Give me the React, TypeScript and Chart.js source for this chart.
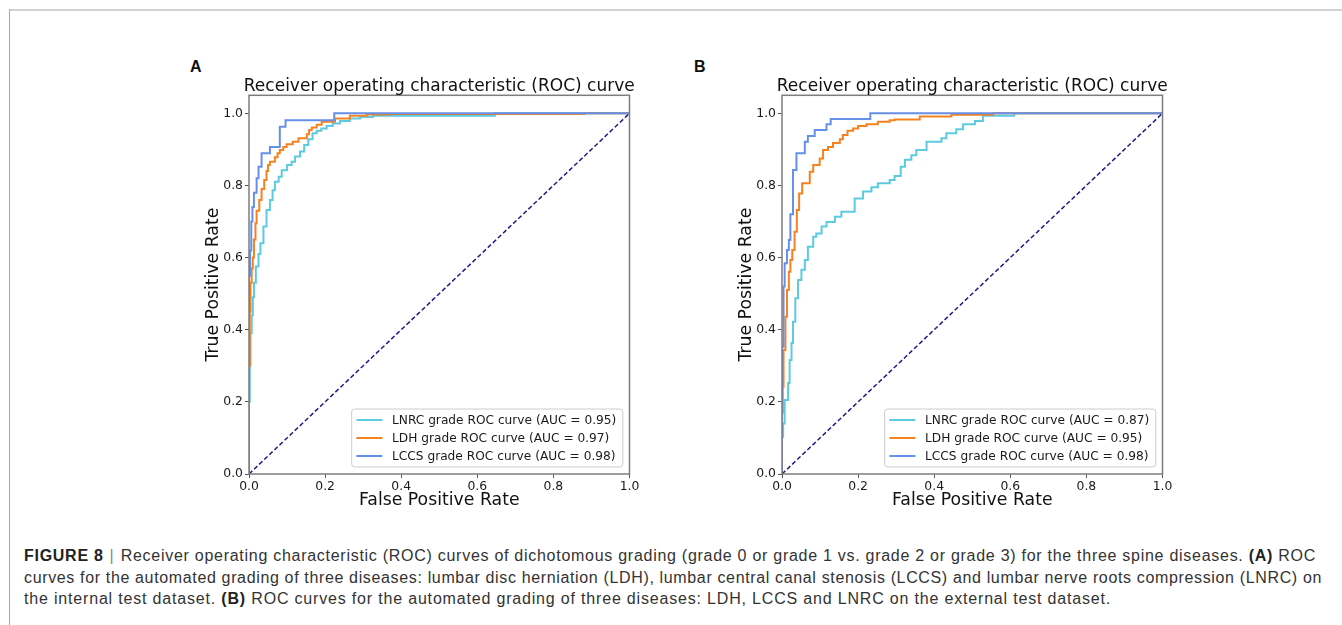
import React, { useEffect, useLayoutEffect, useRef } from "react";
import { Chart, registerables } from "chart.js";

Chart.register(...registerables);

// ---------- data ----------
const seriesLabels = ["LNRC grade ROC curve", "LDH grade ROC curve", "LCCS grade ROC curve"];
const seriesColors = ["#5ccbe0", "#f5821f", "#6690e8"];
const aucA = [0.95, 0.97, 0.98];
const aucB = [0.87, 0.95, 0.98];

const tickValues = [0, 0.2, 0.4, 0.6, 0.8, 1.0];
const tickLabels = ["0.0", "0.2", "0.4", "0.6", "0.8", "1.0"];

const chanceFpr = [0, 1];
const chanceTpr = [0, 1];

// Panel A (internal test dataset)
const aLnrcFpr = [0, 0.002, 0.004, 0.007, 0.010, 0.013, 0.018, 0.025, 0.030, 0.038, 0.046, 0.055, 0.062, 0.068, 0.078, 0.086, 0.100, 0.112, 0.121, 0.134, 0.145, 0.156, 0.167, 0.178, 0.190, 0.204, 0.220, 0.239, 0.265, 0.292, 0.326, 0.400, 0.646, 1];
const aLnrcTpr = [0, 0.20, 0.30, 0.39, 0.44, 0.49, 0.53, 0.575, 0.61, 0.64, 0.686, 0.732, 0.76, 0.787, 0.81, 0.824, 0.842, 0.857, 0.866, 0.880, 0.894, 0.912, 0.928, 0.945, 0.952, 0.958, 0.965, 0.972, 0.979, 0.986, 0.990, 0.993, 0.993, 1];

const aLdhFpr = [0, 0.002, 0.004, 0.007, 0.010, 0.013, 0.017, 0.020, 0.027, 0.033, 0.040, 0.046, 0.050, 0.055, 0.068, 0.075, 0.081, 0.090, 0.099, 0.115, 0.130, 0.152, 0.158, 0.165, 0.178, 0.191, 0.226, 0.265, 0.309, 0.370, 0.881, 1];
const aLdhTpr = [0, 0.30, 0.45, 0.53, 0.57, 0.60, 0.65, 0.695, 0.73, 0.76, 0.79, 0.815, 0.84, 0.857, 0.866, 0.878, 0.889, 0.898, 0.907, 0.914, 0.921, 0.931, 0.942, 0.954, 0.961, 0.968, 0.977, 0.986, 0.993, 0.997, 0.998, 1];

const aLccsFpr = [0, 0.003, 0.006, 0.009, 0.013, 0.020, 0.025, 0.033, 0.055, 0.081, 0.096, 0.224, 1];
const aLccsTpr = [0, 0.55, 0.62, 0.70, 0.74, 0.78, 0.82, 0.852, 0.889, 0.907, 0.963, 0.981, 1];

// Panel B (external test dataset)
const bLnrcFpr = [0, 0.003, 0.007, 0.016, 0.020, 0.025, 0.029, 0.035, 0.042, 0.051, 0.060, 0.068, 0.082, 0.090, 0.104, 0.117, 0.139, 0.156, 0.191, 0.213, 0.235, 0.252, 0.283, 0.296, 0.312, 0.323, 0.340, 0.353, 0.380, 0.419, 0.432, 0.458, 0.476, 0.507, 0.528, 0.610, 1];
const bLnrcTpr = [0, 0.103, 0.14, 0.205, 0.252, 0.316, 0.363, 0.422, 0.487, 0.538, 0.566, 0.593, 0.630, 0.658, 0.667, 0.686, 0.699, 0.713, 0.727, 0.764, 0.783, 0.795, 0.806, 0.815, 0.826, 0.852, 0.871, 0.884, 0.898, 0.921, 0.931, 0.945, 0.956, 0.970, 0.979, 0.993, 1];

const bLdhFpr = [0, 0.002, 0.004, 0.009, 0.013, 0.018, 0.022, 0.027, 0.033, 0.039, 0.045, 0.053, 0.073, 0.082, 0.099, 0.108, 0.121, 0.134, 0.152, 0.160, 0.172, 0.187, 0.200, 0.222, 0.252, 0.283, 0.296, 0.362, 0.445, 0.555, 1];
const bLdhTpr = [0, 0.17, 0.242, 0.344, 0.436, 0.51, 0.561, 0.593, 0.621, 0.672, 0.732, 0.778, 0.806, 0.838, 0.857, 0.875, 0.898, 0.907, 0.918, 0.928, 0.940, 0.952, 0.958, 0.965, 0.970, 0.977, 0.981, 0.983, 0.991, 0.996, 1];

const bLccsFpr = [0, 0.004, 0.007, 0.013, 0.018, 0.022, 0.029, 0.038, 0.060, 0.068, 0.086, 0.117, 0.128, 0.232, 1];
const bLccsTpr = [0, 0.353, 0.52, 0.584, 0.621, 0.649, 0.72, 0.843, 0.889, 0.921, 0.937, 0.954, 0.970, 0.984, 1];

const titleText = "Receiver operating characteristic (ROC) curve";
const xTitle = "False Positive Rate";
const yTitle = "True Positive Rate";

// ---------- chart panel ----------
const FONT = "'DejaVu Sans', sans-serif";

type Series = { fpr: number[]; tpr: number[] };

function RocPanel(props: { left: number; top: number; series: Series[]; auc: number[] }) {
  const ref = useRef<HTMLCanvasElement>(null);
  useEffect(() => {
    const canvas = ref.current;
    if (!canvas) return;
    const auc = props.auc;

    const framePlugin = {
      id: "frameBox",
      afterDatasetsDraw(chart: any) {
        const { ctx, chartArea } = chart;
        ctx.save();
        ctx.strokeStyle = "#7d7d7d";
        ctx.lineWidth = 1.5;
        ctx.strokeRect(chartArea.left, chartArea.top, chartArea.right - chartArea.left, chartArea.bottom - chartArea.top);
        ctx.restore();
      },
    };

    const titlePlugin = {
      id: "axesTitle",
      afterDraw(chart: any) {
        const { ctx, chartArea } = chart;
        ctx.save();
        ctx.font = `17px ${FONT}`;
        ctx.fillStyle = "#111";
        ctx.textAlign = "center";
        ctx.textBaseline = "alphabetic";
        ctx.fillText(titleText, (chartArea.left + chartArea.right) / 2, chartArea.top - 4.3);
        ctx.restore();
      },
    };

    const legendPlugin = {
      id: "rocLegend",
      afterDraw(chart: any) {
        const { ctx, chartArea } = chart;
        ctx.save();
        ctx.font = `12.2px ${FONT}`;
        const labels = seriesLabels.map((s, i) => `${s} (AUC = ${auc[i].toFixed(2)})`);
        const textW = Math.max(...labels.map((l) => ctx.measureText(l).width));
        const padL = 4.7, handle = 26, gap = 9.6, padR = 6.5;
        const w = padL + handle + gap + textW + padR;
        const h = 58;
        const x = chartArea.right - 6.7 - w;
        const y = chartArea.bottom - 7 - h;
        ctx.beginPath();
        ctx.roundRect(x, y, w, h, 3);
        ctx.fillStyle = "rgba(255,255,255,0.8)";
        ctx.fill();
        ctx.strokeStyle = "#cccccc";
        ctx.lineWidth = 1;
        ctx.stroke();
        labels.forEach((l, i) => {
          const cy = y + 11 + i * 18;
          ctx.strokeStyle = seriesColors[i];
          ctx.lineWidth = 2;
          ctx.beginPath();
          ctx.moveTo(x + padL, cy);
          ctx.lineTo(x + padL + handle, cy);
          ctx.stroke();
          ctx.fillStyle = "#1a1a1a";
          ctx.textBaseline = "middle";
          ctx.textAlign = "left";
          ctx.fillText(l, x + padL + handle + gap, cy + 0.5);
        });
        ctx.restore();
      },
    };

    const datasets: any[] = props.series.map((s, i) => ({
      label: seriesLabels[i],
      data: s.fpr.map((x, j) => ({ x, y: s.tpr[j] })),
      borderColor: seriesColors[i],
      backgroundColor: seriesColors[i],
      borderWidth: 2,
      pointRadius: 0,
      stepped: "after",
      fill: false,
      order: 3 - i,
    }));
    datasets.push({
      label: "chance",
      data: chanceFpr.map((x, j) => ({ x, y: chanceTpr[j] })),
      borderColor: "#1c1c86",
      borderWidth: 1.5,
      borderDash: [4.5, 2.5],
      pointRadius: 0,
      fill: false,
      order: 0,
    });

    const tickFont = { family: FONT, size: 12.4 };
    const grid = { drawOnChartArea: false, drawTicks: true, tickLength: 4, color: "#555", lineWidth: 1 };

    const chart = new Chart(canvas, {
      type: "line",
      data: { datasets },
      plugins: [framePlugin, titlePlugin, legendPlugin],
      options: {
        responsive: false,
        devicePixelRatio: 1,
        animation: false,
        layout: { padding: { left: 0, right: 20.5, top: 45.3, bottom: 0 } },
        plugins: {
          legend: { display: false },
          tooltip: { enabled: false },
          title: { display: false },
        },
        scales: {
          x: {
            type: "linear",
            min: 0,
            max: 1,
            afterBuildTicks: (s: any) => {
              s.ticks = tickValues.map((v) => ({ value: v }));
            },
            afterFit: (s: any) => {
              s.height = 46;
            },
            ticks: {
              callback: (_v: any, i: number) => tickLabels[i],
              font: tickFont,
              color: "#1a1a1a",
              maxRotation: 0,
              autoSkip: false,
              padding: 1,
            },
            grid,
            border: { display: false },
            title: {
              display: true,
              text: xTitle,
              color: "#111",
              font: { family: FONT, size: 17.3, lineHeight: 1.2 },
              padding: { top: 0, bottom: 9.2 },
            },
          },
          y: {
            type: "linear",
            min: 0,
            max: 1.05,
            afterBuildTicks: (s: any) => {
              s.ticks = tickValues.map((v) => ({ value: v }));
            },
            afterFit: (s: any) => {
              s.width = 69;
            },
            ticks: {
              callback: (_v: any, i: number) => tickLabels[i],
              font: tickFont,
              color: "#1a1a1a",
              autoSkip: false,
              padding: 2,
            },
            grid,
            border: { display: false },
            title: {
              display: true,
              text: yTitle,
              color: "#111",
              font: { family: FONT, size: 17.3, lineHeight: 1.2 },
              padding: { top: 23.3, bottom: 0 },
            },
          },
        },
      } as any,
    });
    return () => chart.destroy();
  }, []);
  return (
    <canvas
      ref={ref}
      width={470}
      height={470}
      style={{ position: "absolute", left: props.left, top: props.top, width: 470, height: 470 }}
    />
  );
}

// ---------- caption ----------
function FitLine(props: { top: number; target: number; children: React.ReactNode }) {
  const ref = useRef<HTMLDivElement>(null);
  useLayoutEffect(() => {
    const el = ref.current;
    if (!el) return;
    el.style.letterSpacing = "0px";
    const natural = el.getBoundingClientRect().width;
    const chars = (el.textContent || "").length;
    el.style.letterSpacing = `${(props.target - natural) / chars}px`;
  }, []);
  return (
    <div
      ref={ref}
      style={{
        position: "absolute",
        left: 24,
        top: props.top,
        whiteSpace: "nowrap",
        fontFamily: "'Liberation Sans', Arial, sans-serif",
        fontSize: 16,
        lineHeight: "21.5px",
        color: "#333",
      }}
    >
      {props.children}
    </div>
  );
}

export default function App() {
  const b = { fontWeight: 700, color: "#222" } as React.CSSProperties;
  const letterStyle = {
    position: "absolute",
    top: 57,
    fontFamily: "'Liberation Sans', Arial, sans-serif",
    fontWeight: 700,
    fontSize: 16,
    lineHeight: "20px",
    color: "#111",
  } as React.CSSProperties;
  return (
    <div
      style={{
        position: "absolute",
        left: 0,
        top: 0,
        width: 1342,
        height: 625,
        background: "#fff",
        overflow: "hidden",
      }}
    >
      <div style={{ position: "absolute", left: 9, right: 0, top: 9, height: 2, background: "#d2d2d2" }} />
      <div style={{ position: "absolute", left: 9, width: 1, top: 9, bottom: 0, background: "#a8a8a8" }} />

      <div style={{ ...letterStyle, left: 190 }}>A</div>
      <div style={{ ...letterStyle, left: 694 }}>B</div>

      <RocPanel
        left={180}
        top={50}
        auc={aucA}
        series={[
          { fpr: aLnrcFpr, tpr: aLnrcTpr },
          { fpr: aLdhFpr, tpr: aLdhTpr },
          { fpr: aLccsFpr, tpr: aLccsTpr },
        ]}
      />
      <RocPanel
        left={713}
        top={50}
        auc={aucB}
        series={[
          { fpr: bLnrcFpr, tpr: bLnrcTpr },
          { fpr: bLdhFpr, tpr: bLdhTpr },
          { fpr: bLccsFpr, tpr: bLccsTpr },
        ]}
      />

      <FitLine top={545.3} target={1292}>
        <span style={b}>FIGURE 8</span>
        <span style={{ color: "#888", margin: "0 1px 0 6px" }}>|</span> Receiver operating characteristic (ROC) curves of
        dichotomous grading (grade 0 or grade 1 vs. grade 2 or grade 3) for the three spine diseases. <span style={b}>(A)</span> ROC
      </FitLine>
      <FitLine top={566.8} target={1298}>
        curves for the automated grading of three diseases: lumbar disc herniation (LDH), lumbar central canal stenosis (LCCS) and
        lumbar nerve roots compression (LNRC) on
      </FitLine>
      <FitLine top={588.3} target={1087}>
        the internal test dataset. <span style={b}>(B)</span> ROC curves for the automated grading of three diseases: LDH, LCCS and
        LNRC on the external test dataset.
      </FitLine>
    </div>
  );
}
